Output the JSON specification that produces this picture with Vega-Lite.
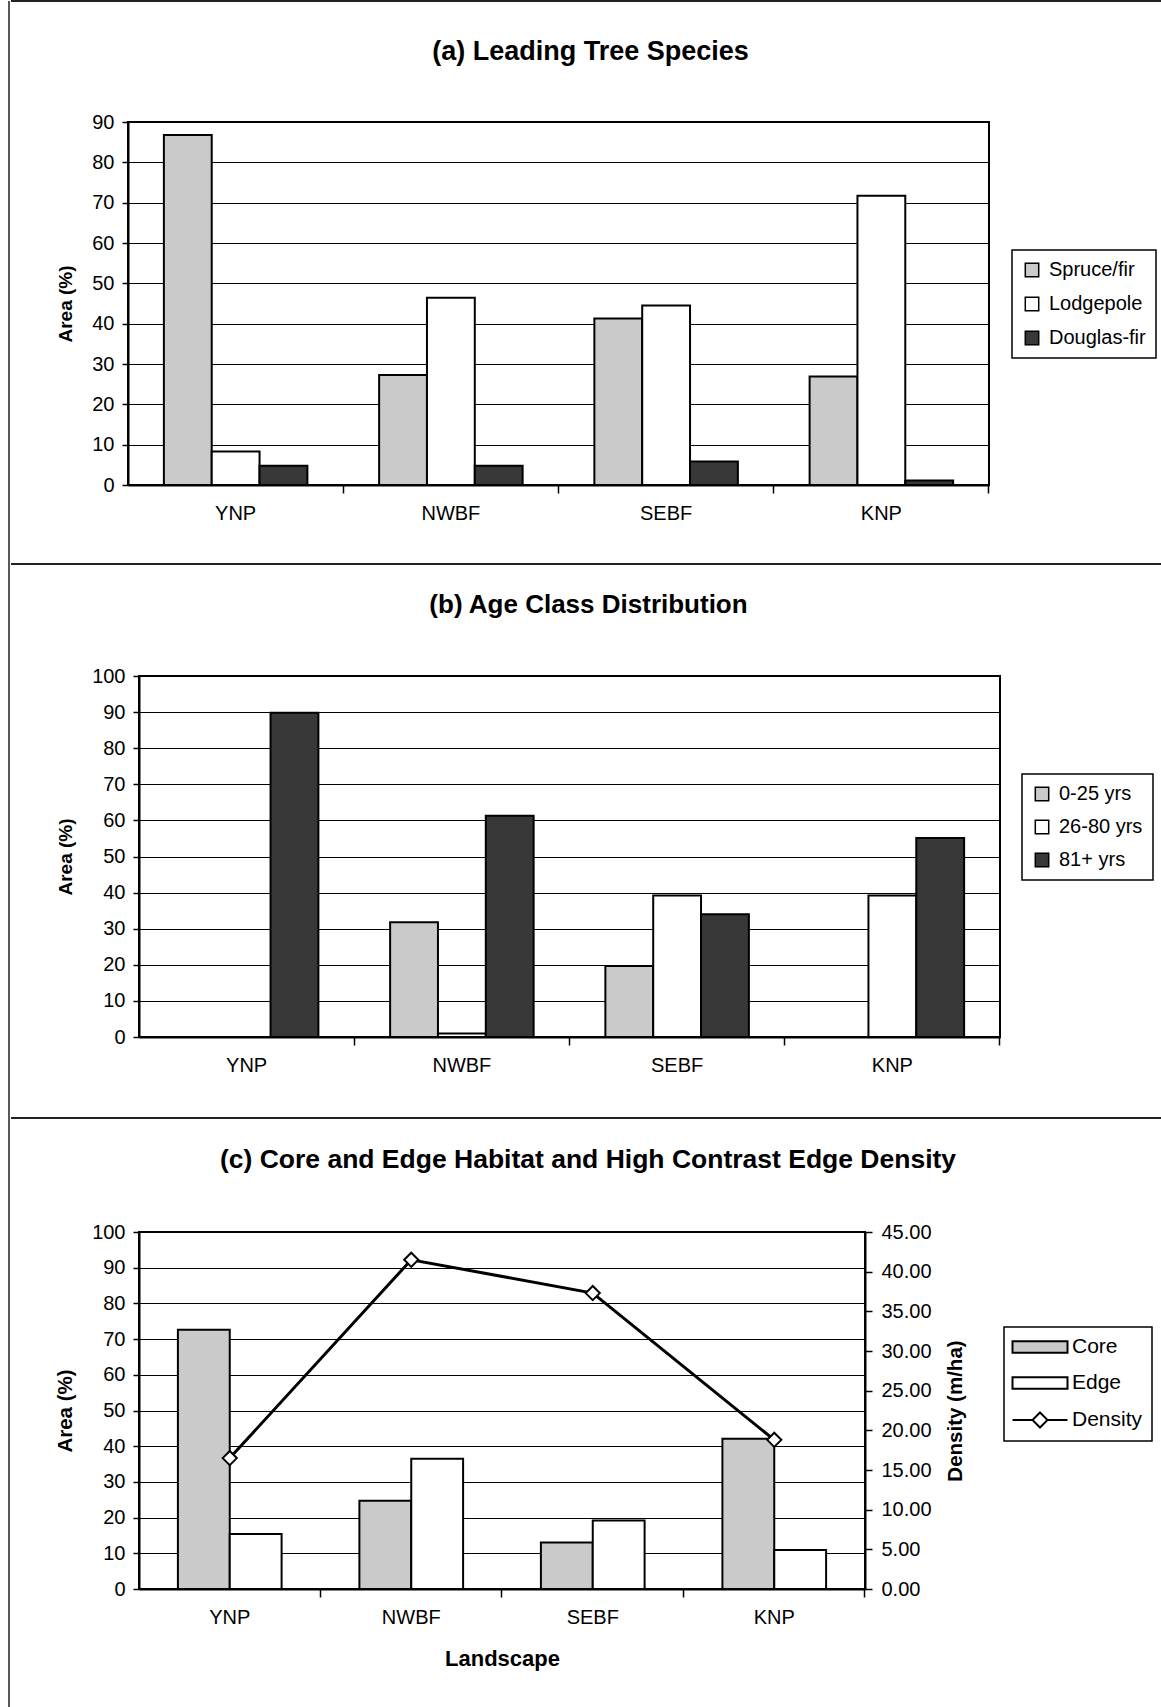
{
  "$schema": "https://vega.github.io/schema/vega-lite/v6.json",
  "background": "white",
  "padding": {"left": 8, "top": 0, "right": 0, "bottom": 0},
  "spacing": 0,
  "datasets": {
    "species": [
      {"landscape": "YNP", "species": "Spruce/fir", "area": 86.8},
      {"landscape": "YNP", "species": "Lodgepole", "area": 8.3},
      {"landscape": "YNP", "species": "Douglas-fir", "area": 4.8},
      {"landscape": "NWBF", "species": "Spruce/fir", "area": 27.3},
      {"landscape": "NWBF", "species": "Lodgepole", "area": 46.4},
      {"landscape": "NWBF", "species": "Douglas-fir", "area": 4.8},
      {"landscape": "SEBF", "species": "Spruce/fir", "area": 41.3},
      {"landscape": "SEBF", "species": "Lodgepole", "area": 44.5},
      {"landscape": "SEBF", "species": "Douglas-fir", "area": 5.8},
      {"landscape": "KNP", "species": "Spruce/fir", "area": 26.9},
      {"landscape": "KNP", "species": "Lodgepole", "area": 71.7},
      {"landscape": "KNP", "species": "Douglas-fir", "area": 1.1}
    ],
    "age": [
      {"landscape": "YNP", "age": "0-25 yrs", "area": 0},
      {"landscape": "YNP", "age": "26-80 yrs", "area": 0},
      {"landscape": "YNP", "age": "81+ yrs", "area": 89.8},
      {"landscape": "NWBF", "age": "0-25 yrs", "area": 31.8},
      {"landscape": "NWBF", "age": "26-80 yrs", "area": 1.0},
      {"landscape": "NWBF", "age": "81+ yrs", "area": 61.3},
      {"landscape": "SEBF", "age": "0-25 yrs", "area": 19.7},
      {"landscape": "SEBF", "age": "26-80 yrs", "area": 39.2},
      {"landscape": "SEBF", "age": "81+ yrs", "area": 34.0},
      {"landscape": "KNP", "age": "0-25 yrs", "area": 0},
      {"landscape": "KNP", "age": "26-80 yrs", "area": 39.2},
      {"landscape": "KNP", "age": "81+ yrs", "area": 55.1}
    ],
    "habitat": [
      {"landscape": "YNP", "habitat": "Core", "area": 72.6},
      {"landscape": "YNP", "habitat": "Edge", "area": 15.4},
      {"landscape": "NWBF", "habitat": "Core", "area": 24.7},
      {"landscape": "NWBF", "habitat": "Edge", "area": 36.5},
      {"landscape": "SEBF", "habitat": "Core", "area": 13.0},
      {"landscape": "SEBF", "habitat": "Edge", "area": 19.2},
      {"landscape": "KNP", "habitat": "Core", "area": 42.1},
      {"landscape": "KNP", "habitat": "Edge", "area": 10.9}
    ],
    "density": [
      {"landscape": "YNP", "density": 16.5},
      {"landscape": "NWBF", "density": 41.5},
      {"landscape": "SEBF", "density": 37.3},
      {"landscape": "KNP", "density": 18.8}
    ]
  },
  "resolve": {
    "scale": {"x": "independent", "y": "independent", "xOffset": "independent", "fill": "independent"},
    "legend": {"fill": "independent"}
  },
  "hconcat": [
    {
      "width": 1,
      "height": 1710,
      "view": {"stroke": null},
      "data": {"values": [{}]},
      "mark": {"type": "rule", "color": "#222222", "strokeWidth": 1.5},
      "encoding": {"x": {"datum": 0, "type": "quantitative", "scale": {"domain": [0, 1]}, "axis": null}}
    },
    {
      "spacing": 26,
      "resolve": {
        "scale": {"x": "independent", "y": "independent", "xOffset": "independent", "fill": "independent"},
        "legend": {"fill": "independent"}
      },
      "vconcat": [
        {
          "width": 1184,
          "height": 10,
          "view": {"stroke": null},
          "data": {"values": [{}]},
          "mark": {"type": "rule", "color": "#222222", "strokeWidth": 2},
          "encoding": {"y": {"datum": 1, "type": "quantitative", "scale": {"domain": [0, 1]}, "axis": null}}
        },
        {
          "spacing": 0,
          "resolve": {
            "scale": {"x": "independent", "y": "independent", "xOffset": "independent", "fill": "independent"},
            "legend": {"fill": "independent"}
          },
          "hconcat": [
            {
              "width": 43.5,
              "height": 1,
              "view": {"stroke": null},
              "data": {"values": [{}]},
              "mark": {"type": "rule", "strokeOpacity": 0, "strokeWidth": 0},
              "encoding": {"y": {"datum": 0, "type": "quantitative", "scale": {"domain": [0, 1]}, "axis": null}}
            },
            {
              "width": 861,
              "height": 363,
              "title": {"text": "(a) Leading Tree Species", "dx": 32, "offset": 46},
              "data": {"name": "species"},
              "mark": {"type": "bar", "stroke": "black", "strokeWidth": 2},
              "encoding": {
                "x": {
                  "field": "landscape", "type": "nominal", "sort": ["YNP", "NWBF", "SEBF", "KNP"],
                  "scale": {"paddingInner": 0.3333, "paddingOuter": 0.1667},
                  "axis": {"title": null, "labelAngle": 0, "bandPosition": 1.25, "tickSize": 8, "labelPadding": 10}
                },
                "xOffset": {
                  "field": "species", "type": "nominal", "sort": ["Spruce/fir", "Lodgepole", "Douglas-fir"],
                  "scale": {"paddingInner": 0, "paddingOuter": 0}
                },
                "y": {
                  "field": "area", "type": "quantitative", "scale": {"domain": [0, 90]},
                  "axis": {"title": "Area (%)", "values": [0, 10, 20, 30, 40, 50, 60, 70, 80, 90], "grid": true, "tickSize": 6, "labelPadding": 8, "titlePadding": 16}
                },
                "fill": {
                  "field": "species", "type": "nominal",
                  "scale": {"domain": ["Spruce/fir", "Lodgepole", "Douglas-fir"], "range": ["#cacaca", "#ffffff", "#383838"]},
                  "legend": {"title": null, "orient": "none", "legendX": 884, "legendY": 128, "rowPadding": 14}
                }
              }
            }
          ]
        },
        {
          "width": 1184,
          "height": 14,
          "view": {"stroke": null},
          "data": {"values": [{}]},
          "mark": {"type": "rule", "color": "#222222", "strokeWidth": 2},
          "encoding": {"y": {"datum": 0, "type": "quantitative", "scale": {"domain": [0, 1]}, "axis": null}}
        },
        {
          "spacing": 0,
          "resolve": {
            "scale": {"x": "independent", "y": "independent", "xOffset": "independent", "fill": "independent"},
            "legend": {"fill": "independent"}
          },
          "hconcat": [
            {
              "width": 43.5,
              "height": 1,
              "view": {"stroke": null},
              "data": {"values": [{}]},
              "mark": {"type": "rule", "strokeOpacity": 0, "strokeWidth": 0},
              "encoding": {"y": {"datum": 0, "type": "quantitative", "scale": {"domain": [0, 1]}, "axis": null}}
            },
            {
              "width": 861,
              "height": 361,
              "title": {"text": "(b) Age Class Distribution", "dx": 19, "offset": 48, "fontSize": 26},
              "data": {"name": "age"},
              "mark": {"type": "bar", "stroke": "black", "strokeWidth": 2},
              "encoding": {
                "x": {
                  "field": "landscape", "type": "nominal", "sort": ["YNP", "NWBF", "SEBF", "KNP"],
                  "scale": {"paddingInner": 0.3333, "paddingOuter": 0.1667},
                  "axis": {"title": null, "labelAngle": 0, "bandPosition": 1.25, "tickSize": 8, "labelPadding": 10}
                },
                "xOffset": {
                  "field": "age", "type": "nominal", "sort": ["0-25 yrs", "26-80 yrs", "81+ yrs"],
                  "scale": {"paddingInner": 0, "paddingOuter": 0}
                },
                "y": {
                  "field": "area", "type": "quantitative", "scale": {"domain": [0, 100]},
                  "axis": {"title": "Area (%)", "values": [0, 10, 20, 30, 40, 50, 60, 70, 80, 90, 100], "grid": true, "tickSize": 6, "labelPadding": 8, "titlePadding": 16}
                },
                "fill": {
                  "field": "age", "type": "nominal",
                  "scale": {"domain": ["0-25 yrs", "26-80 yrs", "81+ yrs"], "range": ["#cacaca", "#ffffff", "#383838"]},
                  "legend": {"title": null, "orient": "none", "legendX": 883, "legendY": 98}
                }
              }
            }
          ]
        },
        {
          "width": 1184,
          "height": 16,
          "view": {"stroke": null},
          "data": {"values": [{}]},
          "mark": {"type": "rule", "color": "#222222", "strokeWidth": 2},
          "encoding": {"y": {"datum": 0, "type": "quantitative", "scale": {"domain": [0, 1]}, "axis": null}}
        },
        {
          "spacing": 0,
          "resolve": {
            "scale": {"x": "independent", "y": "independent", "xOffset": "independent", "fill": "independent"},
            "legend": {"fill": "independent"}
          },
          "hconcat": [
            {
              "width": 42.5,
              "height": 1,
              "view": {"stroke": null},
              "data": {"values": [{}]},
              "mark": {"type": "rule", "strokeOpacity": 0, "strokeWidth": 0},
              "encoding": {"y": {"datum": 0, "type": "quantitative", "scale": {"domain": [0, 1]}, "axis": null}}
            },
            {
              "width": 726,
              "height": 357,
              "title": {"text": "(c) Core and Edge Habitat and High Contrast Edge Density", "dx": 86, "offset": 49, "fontSize": 26.5},
              "resolve": {"scale": {"y": "independent"}},
              "layer": [
                {
                  "data": {"name": "habitat"},
                  "mark": {"type": "bar", "stroke": "black", "strokeWidth": 2},
                  "encoding": {
                    "x": {
                      "field": "landscape", "type": "nominal", "sort": ["YNP", "NWBF", "SEBF", "KNP"],
                      "scale": {"paddingInner": 0.4286, "paddingOuter": 0.2143},
                      "axis": {"title": "Landscape", "labelAngle": 0, "bandPosition": 1.375, "tickSize": 8, "labelPadding": 10, "titlePadding": 21, "titleFontSize": 22}
                    },
                    "xOffset": {
                      "field": "habitat", "type": "nominal", "sort": ["Core", "Edge"],
                      "scale": {"paddingInner": 0, "paddingOuter": 0}
                    },
                    "y": {
                      "field": "area", "type": "quantitative", "scale": {"domain": [0, 100]},
                      "axis": {"title": "Area (%)", "values": [0, 10, 20, 30, 40, 50, 60, 70, 80, 90, 100], "grid": true, "tickSize": 6, "labelPadding": 8, "titlePadding": 16, "titleFontSize": 20.5}
                    },
                    "fill": {
                      "field": "habitat", "type": "nominal",
                      "scale": {"domain": ["Core", "Edge", "Density"], "range": ["#cacaca", "#ffffff", "#ffffff"]},
                      "legend": {
                        "title": null, "orient": "none", "legendX": 865, "legendY": 95, "padding": 9,
                        "labelFontSize": 21, "symbolSize": 400, "symbolOffset": 16, "labelOffset": 21, "rowPadding": 15,
                        "encode": {
                          "symbols": {
                            "update": {
                              "shape": {"signal": "datum.value === 'Density' ? 'M-2.75,0H-0.75M0.75,0H2.75M0,-0.75L0.75,0L0,0.75L-0.75,0Z' : 'M-2.75,-0.58H2.75V0.58H-2.75Z'"},
                              "stroke": {"value": "black"},
                              "strokeWidth": {"value": 2}
                            }
                          }
                        }
                      }
                    }
                  }
                },
                {
                  "data": {"name": "density"},
                  "encoding": {
                    "x": {"field": "landscape", "type": "nominal", "sort": ["YNP", "NWBF", "SEBF", "KNP"]},
                    "y": {
                      "field": "density", "type": "quantitative", "scale": {"domain": [0, 45]},
                      "axis": {"orient": "right", "title": "Density (m/ha)", "titleAngle": 270, "titleBaseline": "top", "format": ".2f", "values": [0, 5, 10, 15, 20, 25, 30, 35, 40, 45], "grid": false, "tickSize": 7, "labelPadding": 9, "titlePadding": 14, "titleFontSize": 20.5}
                    }
                  },
                  "layer": [
                    {"mark": {"type": "line", "color": "black", "strokeWidth": 3}},
                    {"mark": {"type": "point", "shape": "diamond", "filled": true, "fill": "white", "stroke": "black", "strokeWidth": 2, "size": 200, "opacity": 1}}
                  ]
                }
              ]
            }
          ]
        }
      ]
    }
  ],
  "config": {
    "font": "Liberation Sans",
    "view": {"stroke": "black", "strokeWidth": 2},
    "axis": {
      "domainColor": "black", "domainWidth": 2, "tickColor": "black", "tickWidth": 1.5,
      "labelColor": "black", "labelFont": "Liberation Sans", "labelFontSize": 20,
      "titleColor": "black", "titleFont": "Liberation Sans", "titleFontSize": 19, "titleFontWeight": "bold",
      "gridColor": "black", "gridWidth": 1.2, "gridOpacity": 1, "grid": false
    },
    "title": {"font": "Liberation Sans", "fontSize": 27, "fontWeight": "bold", "color": "black", "anchor": "middle"},
    "legend": {
      "strokeColor": "black", "strokeWidth": 1.5, "fillColor": "white", "padding": 10,
      "labelFont": "Liberation Sans", "labelFontSize": 20, "labelColor": "black", "labelOffset": 7,
      "symbolType": "square", "symbolSize": 180, "symbolStrokeColor": "black", "symbolStrokeWidth": 1.5,
      "rowPadding": 13
    }
  }
}
